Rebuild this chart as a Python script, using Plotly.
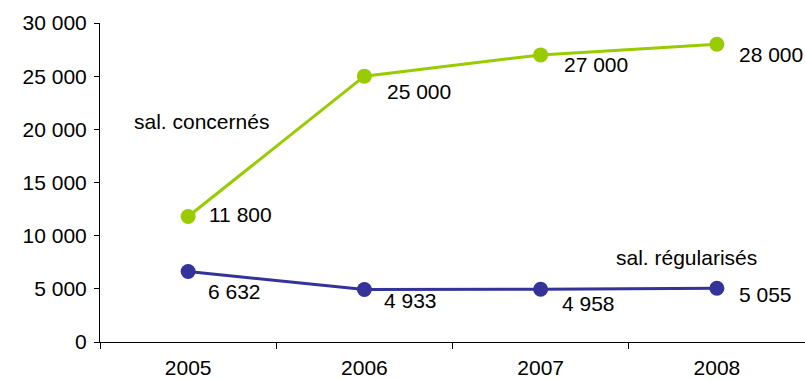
import plotly.graph_objects as go

years = ["2005", "2006", "2007", "2008"]
concernes = [11800, 25000, 27000, 28000]
regularises = [6632, 4933, 4958, 5055]
concernes_labels = ["11 800", "25 000", "27 000", "28 000"]
regularises_labels = ["6 632", "4 933", "4 958", "5 055"]
series_names = ["sal. concernés", "sal. régularisés"]

GREEN = "#99CC00"
BLUE = "#333399"
FONT = "Liberation Sans, Arial, sans-serif"
FS = 21

fig = go.Figure()
fig.add_trace(go.Scatter(x=years, y=concernes, mode="lines+markers",
                         line=dict(color=GREEN, width=3),
                         marker=dict(color=GREEN, size=15), showlegend=False))
fig.add_trace(go.Scatter(x=years, y=regularises, mode="lines+markers",
                         line=dict(color=BLUE, width=3),
                         marker=dict(color=BLUE, size=15), showlegend=False))

# label offsets (pixels) relative to each point
c_off = [(19, 2), (21, -15), (21, -10), (20, -10)]
r_off = [(18, -20), (18, -11), (19, -14), (20, -6)]
for i, (y, t, (dx, dy)) in enumerate(zip(concernes, concernes_labels, c_off)):
    fig.add_annotation(x=i, y=y, text=t, showarrow=False, xanchor="left",
                       yanchor="middle", xshift=dx, yshift=dy,
                       font=dict(size=FS, color="#000000", family=FONT))
for i, (y, t, (dx, dy)) in enumerate(zip(regularises, regularises_labels, r_off)):
    fig.add_annotation(x=i, y=y, text=t, showarrow=False, xanchor="left",
                       yanchor="middle", xshift=dx, yshift=dy,
                       font=dict(size=FS, color="#000000", family=FONT))

fig.add_annotation(xref="paper", yref="paper", x=(132 - 100) / 705,
                   y=(342 - 121) / 319, text=series_names[0], showarrow=False,
                   xanchor="left", yanchor="middle",
                   font=dict(size=FS, color="#000000", family=FONT))
fig.add_annotation(xref="paper", yref="paper", x=(614 - 100) / 705,
                   y=(342 - 257) / 319, text=series_names[1], showarrow=False,
                   xanchor="left", yanchor="middle",
                   font=dict(size=FS, color="#000000", family=FONT))

fig.update_layout(
    width=805, height=380,
    margin=dict(l=100, r=0, t=23, b=38),
    paper_bgcolor="white", plot_bgcolor="white",
    separators=", ",
    font=dict(family=FONT, size=FS, color="#000000"),
    xaxis=dict(type="category", range=[-0.5, 3.5], showgrid=False,
               showline=True, linecolor="#000000", linewidth=1,
               ticks="outside", tickson="boundaries", ticklen=6,
               tickcolor="#000000", tickfont=dict(size=FS), zeroline=False,
               ticklabelstandoff=7),
    yaxis=dict(range=[0, 30000], dtick=5000, tickformat=",d", showgrid=False,
               showline=True, linecolor="#000000", linewidth=1,
               ticks="outside", ticklen=5, tickcolor="#000000",
               ticklabelstandoff=3,
               tickfont=dict(size=FS), zeroline=False),
)

fig.write_html("out.html")
